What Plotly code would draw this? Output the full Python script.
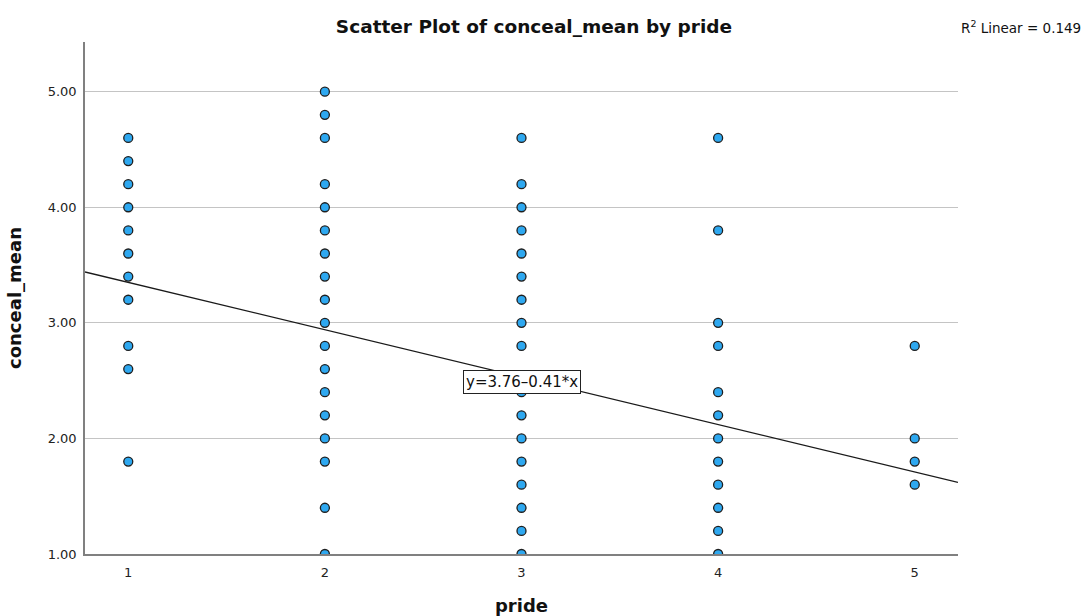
import plotly.graph_objects as go

# pride level -> observed conceal_mean values
pride_1 = [4.6, 4.4, 4.2, 4.0, 3.8, 3.6, 3.4, 3.2, 2.8, 2.6, 1.8]
pride_2 = [5.0, 4.8, 4.6, 4.2, 4.0, 3.8, 3.6, 3.4, 3.2, 3.0, 2.8, 2.6, 2.4, 2.2, 2.0, 1.8, 1.4, 1.0]
pride_3 = [4.6, 4.2, 4.0, 3.8, 3.6, 3.4, 3.2, 3.0, 2.8, 2.4, 2.2, 2.0, 1.8, 1.6, 1.4, 1.2, 1.0]
pride_4 = [4.6, 3.8, 3.0, 2.8, 2.4, 2.2, 2.0, 1.8, 1.6, 1.4, 1.2, 1.0]
pride_5 = [2.8, 2.0, 1.8, 1.6]

groups = {1: pride_1, 2: pride_2, 3: pride_3, 4: pride_4, 5: pride_5}

# linear fit: y = 3.76 - 0.41 * x, R^2 = 0.149
intercept = 3.76
slope = -0.41
r_squared = 0.149

x_range = [0.78, 5.22]
y_range = [1.0, 5.43]

xs, ys = [], []
for k, vals in groups.items():
    xs += [k] * len(vals)
    ys += vals

FONT = "DejaVu Sans, Verdana, sans-serif"

fig = go.Figure()

fig.add_trace(go.Scatter(
    x=x_range,
    y=[intercept + slope * v for v in x_range],
    mode="lines",
    line=dict(color="#1a1a1a", width=1.3),
    hoverinfo="skip",
    showlegend=False,
))

fig.add_trace(go.Scatter(
    x=xs, y=ys,
    mode="markers",
    marker=dict(size=9, color="#2ea8f0", line=dict(color="#1e1e1e", width=1.3)),
    showlegend=False,
))

fig.add_annotation(
    x=3.0, y=2.49, xref="x", yref="y",
    text=f"y={intercept:.2f}\u2013{abs(slope):.2f}*x",
    showarrow=False,
    font=dict(family=FONT, size=15, color="#111"),
    bgcolor="white", bordercolor="#222", borderwidth=1, borderpad=2,
)

fig.add_annotation(
    x=1.143, y=1.029, xref="paper", yref="paper",
    xanchor="right", yanchor="middle",
    text=f"R<sup>2</sup> Linear = {r_squared}",
    showarrow=False,
    font=dict(family=FONT, size=13.5, color="#111"),
)

fig.update_layout(
    width=1086, height=616,
    margin=dict(l=85, r=128, t=42, b=62),
    paper_bgcolor="white", plot_bgcolor="white",
    title=dict(
        text="<b>Scatter Plot of conceal_mean by pride</b>",
        x=534 / 1086, xanchor="center",
        y=1 - 27 / 616, yanchor="middle",
        font=dict(family=FONT, size=18.5, color="#111"),
    ),
    xaxis=dict(
        range=x_range, automargin=False,
        tickvals=[1, 2, 3, 4, 5],
        ticktext=["1", "2", "3", "4", "5"],
        showgrid=False, zeroline=False,
        showline=True, linecolor="#808080", linewidth=1.5,
        ticks="", tickfont=dict(family=FONT, size=13, color="#222"),
        ticklabelstandoff=6,
        title=dict(text="<b>pride</b>", font=dict(family=FONT, size=18, color="#111"), standoff=20),
    ),
    yaxis=dict(
        range=y_range, automargin=False,
        tickvals=[1, 2, 3, 4, 5],
        ticktext=["1.00", "2.00", "3.00", "4.00", "5.00"],
        showgrid=True, gridcolor="#c4c4c4", gridwidth=1,
        zeroline=False,
        showline=True, linecolor="#808080", linewidth=1.5,
        ticks="", tickfont=dict(family=FONT, size=13, color="#222"),
        ticklabelstandoff=4,
        title=dict(text="<b>conceal_mean</b>", font=dict(family=FONT, size=18, color="#111"), standoff=21),
    ),
)

fig.write_html("out.html")
